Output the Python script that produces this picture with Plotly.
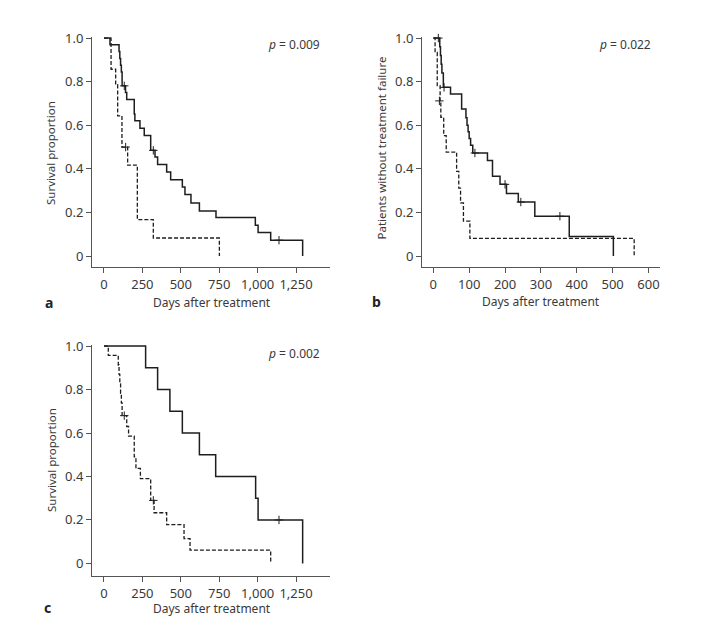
import plotly.graph_objects as go

# ---------------- data ----------------
# Panel a (overall survival)
a_solid_t = [39, 98, 103, 108, 113, 118, 140, 148, 197, 201, 234, 262, 304, 332, 349, 408, 434, 510, 527, 566, 621, 729, 985, 1003, 1085, 1293]
a_solid_s = [0.969, 0.938, 0.906, 0.875, 0.844, 0.781, 0.75, 0.718, 0.652, 0.621, 0.587, 0.553, 0.485, 0.454, 0.42, 0.386, 0.35, 0.317, 0.282, 0.244, 0.207, 0.177, 0.142, 0.108, 0.073, 0.0]
a_solid_cens_t = [132, 321, 1139]
a_solid_cens_s = [0.781, 0.485, 0.073]
a_dash_t = [46, 76, 89, 117, 154, 217, 321, 751]
a_dash_s = [0.857, 0.786, 0.643, 0.5, 0.417, 0.167, 0.083, 0.0]
a_dash_cens_t = [141]
a_dash_cens_s = [0.5]

# Panel b (treatment failure)
b_solid_t = [18, 20, 22, 24, 28, 48, 79, 91, 94, 97, 100, 104, 110, 151, 165, 186, 204, 237, 283, 379, 502]
b_solid_s = [0.96, 0.92, 0.88, 0.84, 0.774, 0.744, 0.675, 0.635, 0.6, 0.57, 0.539, 0.508, 0.473, 0.439, 0.366, 0.329, 0.287, 0.248, 0.183, 0.09, 0.0]
b_solid_cens_t = [14, 30, 116, 200, 244, 353]
b_solid_cens_s = [1.0, 0.774, 0.473, 0.329, 0.248, 0.183]
b_dash_t = [5, 11, 19, 21, 29, 36, 65, 71, 76, 84, 102, 560]
b_dash_s = [0.934, 0.782, 0.712, 0.637, 0.553, 0.477, 0.389, 0.312, 0.244, 0.16, 0.081, 0.0]
b_dash_cens_t = [17]
b_dash_cens_s = [0.712]

# Panel c (survival)
c_solid_t = [271, 349, 429, 510, 621, 727, 987, 1003, 1293]
c_solid_s = [0.9, 0.8, 0.7, 0.6, 0.5, 0.4, 0.3, 0.2, 0.0]
c_solid_cens_t = [1139]
c_solid_cens_s = [0.2]
c_dash_t = [28, 93, 98, 103, 108, 113, 118, 148, 160, 197, 208, 237, 304, 326, 408, 521, 560, 1085]
c_dash_s = [0.957, 0.913, 0.87, 0.826, 0.783, 0.739, 0.68, 0.63, 0.586, 0.49, 0.437, 0.39, 0.29, 0.233, 0.178, 0.114, 0.061, 0.0]
c_dash_cens_t = [132, 321]
c_dash_cens_s = [0.68, 0.29]

p_values = ["0.009", "0.022", "0.002"]
panel_letters = ["a", "b", "c"]
y_titles = ["Survival proportion", "Patients without treatment failure", "Survival proportion"]
x_title = "Days after treatment"
y_tickvals = [0, 0.2, 0.4, 0.6, 0.8, 1.0]
y_ticktext = ["0", "0.2", "0.4", "0.6", "0.8", "1.0"]
x_ticks_long = [0, 250, 500, 750, 1000, 1250]
x_ticks_b = [0, 100, 200, 300, 400, 500, 600]

# ---------------- figure ----------------
W, H = 709, 644
OFF = 8  # page body margin compensation
FONT = "Noto Sans"
LINE = "#1e1e1e"
AX = "#555555"
TXT = "#3a3a3a"

fig = go.Figure()

def add_curve(t, s, ax, dashed):
    fig.add_trace(go.Scatter(
        x=[0] + t, y=[1.0] + s, mode="lines",
        line=dict(shape="hv", color=LINE, width=1.5 if not dashed else 1.3,
                  dash="4px,2px" if dashed else "solid"),
        xaxis=ax[0], yaxis=ax[1], showlegend=False, hoverinfo="skip"))

def add_cens(t, s, ax):
    fig.add_trace(go.Scatter(
        x=t, y=s, mode="markers",
        marker=dict(symbol="cross-thin", size=6, color=LINE, line=dict(width=1, color=LINE)),
        xaxis=ax[0], yaxis=ax[1], showlegend=False, hoverinfo="skip", cliponaxis=False))

A = ("x", "y"); B = ("x2", "y2"); C = ("x3", "y3")
add_curve(a_solid_t, a_solid_s, A, False); add_curve(a_dash_t, a_dash_s, A, True)
add_cens(a_solid_cens_t, a_solid_cens_s, A); add_cens(a_dash_cens_t, a_dash_cens_s, A)
add_curve(b_solid_t, b_solid_s, B, False); add_curve(b_dash_t, b_dash_s, B, True)
add_cens(b_solid_cens_t, b_solid_cens_s, B); add_cens(b_dash_cens_t, b_dash_cens_s, B)
add_curve(c_solid_t, c_solid_s, C, False); add_curve(c_dash_t, c_dash_s, C, True)
add_cens(c_solid_cens_t, c_solid_cens_s, C); add_cens(c_dash_cens_t, c_dash_cens_s, C)

def xd(p0, p1):
    return [(p0 - OFF) / W, (p1 - OFF) / W]

def yd(top, bottom):
    return [1 - (bottom - OFF) / H, 1 - (top - OFF) / H]

common = dict(showline=True, linecolor=AX, linewidth=1, ticks="outside", ticklen=5,
              tickcolor=AX, tickwidth=1, showgrid=False, zeroline=False,
              tickfont=dict(family=FONT, size=13, color=TXT), automargin=False)

fig.update_layout(
    width=W, height=H, margin=dict(l=0, r=0, t=0, b=0),
    paper_bgcolor="white", plot_bgcolor="white", showlegend=False,
    xaxis=dict(domain=xd(92, 330), range=[-78, 1471], tickvals=x_ticks_long, tickformat=",", anchor="y", **common),
    yaxis=dict(domain=yd(37, 267), range=[-0.05, 1.005], tickvals=y_tickvals, ticktext=y_ticktext, anchor="x", **common),
    xaxis2=dict(domain=xd(422, 660), range=[-31.5, 632], tickvals=x_ticks_b, anchor="y2", **common),
    yaxis2=dict(domain=yd(37, 267), range=[-0.05, 1.005], tickvals=y_tickvals, ticktext=y_ticktext, anchor="x2", **common),
    xaxis3=dict(domain=xd(92, 330), range=[-78, 1471], tickvals=x_ticks_long, tickformat=",", anchor="y3", **common),
    yaxis3=dict(domain=yd(345, 576), range=[-0.058, 1.005], tickvals=y_tickvals, ticktext=y_ticktext, anchor="x3", **common),
)

def ann(text, px, py, size=12, angle=0, xanchor="center", bold=False):
    fig.add_annotation(
        text=f"<b>{text}</b>" if bold else text, x=(px - OFF) / W, y=1 - (py - OFF) / H,
        xref="paper", yref="paper", showarrow=False, textangle=angle,
        xanchor=xanchor, yanchor="middle",
        font=dict(family=FONT, size=size, color=TXT if not bold else "#222"))

# p values
ann(f"<i>p</i> = {p_values[0]}", 322, 45, xanchor="right")
ann(f"<i>p</i> = {p_values[1]}", 653, 45, xanchor="right")
ann(f"<i>p</i> = {p_values[2]}", 322, 353, xanchor="right")
# axis titles
ann(x_title, 211.7, 302)
ann(x_title, 541, 301)
ann(x_title, 211.7, 608)
ann(y_titles[0], 51, 153, size=11.5, angle=-90)
ann(y_titles[1], 381, 147.5, size=11.5, angle=-90)
ann(y_titles[2], 51, 460, size=11.5, angle=-90)
# panel letters
ann(panel_letters[0], 49, 302, size=14, bold=True)
ann(panel_letters[1], 376, 301, size=14, bold=True)
ann(panel_letters[2], 47, 607, size=14, bold=True)

fig.write_html("out.html")
